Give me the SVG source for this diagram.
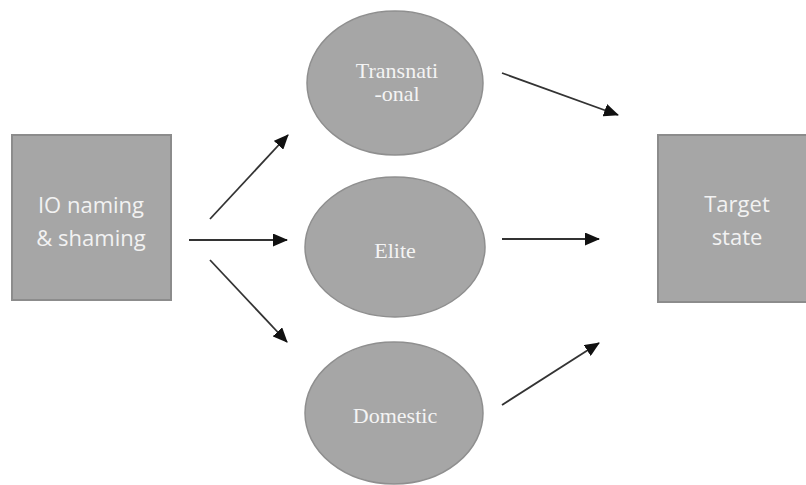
<svg xmlns="http://www.w3.org/2000/svg" width="806" height="485" viewBox="0 0 806 485">
<style>
.box{fill:#a6a6a6;stroke:#8c8c8c;stroke-width:2}
.ell{fill:#a6a6a6;stroke:#8f8f8f;stroke-width:1.5}
.bt{font-family:"Open Sans","Liberation Sans",sans-serif;font-size:22px;fill:#f2f2f2;text-anchor:middle}
.et{font-family:"Liberation Serif","Times New Roman",serif;font-size:22px;fill:#f4f4f4;text-anchor:middle}
.con line{stroke:#333;stroke-width:1.8;marker-end:url(#ah)}
</style>
<defs>
<marker id="ah" viewBox="0 0 15 13" refX="14" refY="6.5" markerWidth="15" markerHeight="13" markerUnits="userSpaceOnUse" orient="auto">
<path d="M0,0 L15,6.5 L0,13 Z" fill="#111"/>
</marker>
</defs>
<rect width="806" height="485" fill="#fff"/>
<g id="io">
<rect class="box" x="12" y="135" width="159" height="165"/>
<text class="bt" x="91" y="213">IO naming</text>
<text class="bt" x="91" y="246">&amp; shaming</text>
</g>
<g id="transnational">
<ellipse class="ell" cx="395" cy="83" rx="88" ry="72"/>
<text class="et" x="397" y="78">Transnati</text>
<text class="et" x="397" y="101">-onal</text>
</g>
<g id="elite">
<ellipse class="ell" cx="395" cy="247" rx="90" ry="70"/>
<text class="et" x="395" y="258">Elite</text>
</g>
<g id="domestic">
<ellipse class="ell" cx="394" cy="413" rx="89" ry="71"/>
<text class="et" x="395" y="423">Domestic</text>
</g>
<g id="target">
<rect class="box" x="658" y="135" width="150" height="167"/>
<text class="bt" x="737" y="212">Target</text>
<text class="bt" x="737" y="245">state</text>
</g>
<g class="con" id="connectors">
<line x1="210" y1="219" x2="288" y2="135"/>
<line x1="189" y1="240" x2="287" y2="240"/>
<line x1="210" y1="260" x2="287" y2="342"/>
<line x1="502" y1="73" x2="618" y2="115"/>
<line x1="502" y1="239" x2="599" y2="239"/>
<line x1="502" y1="405" x2="599" y2="343"/>
</g>
</svg>
